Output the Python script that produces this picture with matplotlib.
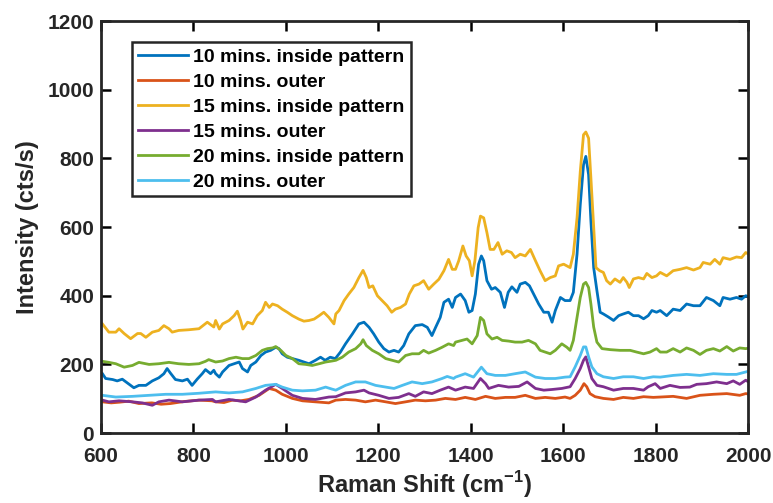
import matplotlib
matplotlib.use("Agg")
import matplotlib.pyplot as plt

plt.rcParams["font.family"] = ["Liberation Sans", "DejaVu Sans"]
plt.rcParams["font.weight"] = "bold"
plt.rcParams["mathtext.fontset"] = "custom"
plt.rcParams["mathtext.bf"] = "Liberation Sans:bold"
plt.rcParams["mathtext.rm"] = "Liberation Sans:bold"

# --- 10 mins, inside pattern ---
x_10_in = [603, 610, 625, 635, 646, 661, 671, 682, 697, 711, 725, 736, 743, 750, 761, 776, 787, 797, 808, 819, 826, 837, 844,
           848, 856, 863, 877, 888, 899, 906, 917, 924, 935, 946, 956, 967, 978, 985, 992, 1003, 1014, 1028, 1039, 1050, 1064,
           1075, 1085, 1096, 1107,
           1118, 1129, 1144, 1158, 1169, 1180, 1190, 1201, 1212, 1223, 1234, 1244, 1255, 1266, 1280, 1295, 1306, 1316,
           1324, 1334, 1342, 1352, 1360,
           1367, 1378, 1388, 1396, 1403, 1410, 1417, 1423, 1428, 1435, 1445, 1453, 1464, 1473, 1481, 1489, 1500, 1507,
           1518, 1527, 1536, 1547, 1558, 1568, 1576, 1583, 1594, 1604,
           1615, 1622, 1630, 1637, 1644, 1649, 1655, 1660, 1666, 1673, 1680, 1687, 1698, 1709, 1720, 1730, 1741, 1752,
           1763, 1774, 1784, 1792, 1802,
           1810, 1824, 1838, 1853, 1867, 1882, 1896, 1910, 1925, 1939, 1946, 1961, 1975, 1986, 1995, 2000]
y_10_in = [173, 159, 156, 152, 157, 142, 132, 139, 139, 152, 161, 173, 188, 175, 156, 152, 157, 139, 157, 173, 185, 173, 183,
           173, 163, 178, 197, 202, 207, 188, 178, 197, 207, 226, 236, 241, 250, 246, 231, 221, 217, 212, 207, 202, 212,
           221, 212, 221, 217,
           236, 260, 289, 318, 323, 308, 289, 265, 246, 236, 241, 236, 255, 289, 313, 316, 308, 284,
           308, 337, 381, 390, 366,
           395, 405, 386, 352, 357, 405, 492, 516, 502, 444, 419, 424, 410, 366, 410, 426, 410, 434,
           439, 429, 405, 376, 352, 352, 323, 357, 395, 386,
           386, 410, 521, 666, 782, 806, 753, 618, 482, 415, 352, 347, 338, 328, 342, 347, 352, 342,
           342, 333, 342, 357, 352,
           357, 342, 361, 357, 376, 371, 371, 395, 386, 371, 395, 390, 395, 390, 400, 398]

# --- 10 mins, outer ---
x_10_out = [603, 622, 640, 660, 682, 710, 730, 750, 780, 812, 840,
            848, 866, 884, 902, 920, 942, 964, 978, 992, 1014, 1036, 1064, 1093,
            1108, 1129, 1151, 1172, 1194, 1216, 1237, 1259, 1280, 1302, 1324, 1345,
            1367, 1388, 1410, 1432, 1453, 1475, 1496, 1518, 1540, 1561, 1583, 1604,
            1615, 1626, 1637, 1645, 1651, 1658, 1669, 1687, 1709, 1730, 1752, 1774, 1795,
            1810, 1838, 1867, 1896, 1925, 1954, 1982, 1995, 2000]
y_10_out = [91, 88, 90, 93, 86, 88, 84, 86, 92, 96, 94,
            91, 89, 96, 94, 98, 110, 130, 125, 113, 101, 94, 91, 88,
            96, 98, 96, 91, 96, 91, 86, 91, 96, 94, 96, 101,
            98, 104, 98, 107, 101, 104, 104, 110, 101, 104, 101, 105,
            101, 110, 125, 144, 135, 115, 106, 101, 98, 104, 101, 106, 104,
            105, 107, 101, 110, 113, 115, 110, 115, 114]

# --- 15 mins, inside pattern ---
x_15_in = [603, 617, 632, 639, 650, 664, 679, 686, 697, 711, 725, 736, 747, 754, 768, 790, 812, 830, 844,
           848, 856, 863, 877, 888, 895, 902, 907, 917, 928, 938, 949, 956, 964, 971, 982, 992, 1003, 1014, 1028,
           1039, 1050, 1061, 1072, 1082, 1093, 1104,
           1108, 1115, 1126, 1136, 1147, 1158, 1167, 1174, 1180, 1188, 1198, 1208, 1219, 1229, 1237, 1248, 1259,
           1267, 1277, 1288, 1298, 1309, 1320, 1331, 1342, 1352, 1360,
           1367, 1374, 1383, 1390, 1397, 1403, 1409, 1416, 1421, 1428, 1435, 1442, 1450, 1459, 1468, 1478, 1488,
           1496, 1507, 1518, 1529, 1540, 1550, 1561, 1572, 1583, 1590, 1601,
           1615, 1622, 1630, 1637, 1644, 1649, 1655, 1660, 1666, 1671, 1679, 1687, 1694, 1702, 1712, 1723, 1730,
           1738, 1743, 1752, 1763, 1774, 1781, 1792, 1802,
           1810, 1824, 1838, 1853, 1867, 1882, 1896, 1903, 1918, 1928, 1939, 1946, 1961, 1975, 1986, 1995, 2000]
y_15_in = [318, 294, 294, 304, 290, 275, 290, 290, 279, 294, 299, 313, 304, 294, 299, 301, 304, 323, 309,
           328, 303, 318, 328, 342, 355, 328, 303, 323, 318, 342, 357, 381, 366, 376, 371, 361, 352, 342, 332,
           326, 328, 332, 342, 352, 337, 318,
           347, 357, 386, 405, 424, 453, 474, 453, 424, 429, 400, 386, 371, 352, 361, 366, 376,
           405, 429, 434, 444, 419, 434, 448, 473, 506, 477,
           477, 502, 545, 516, 502, 458, 502, 598, 632, 627, 584, 535, 535, 555, 521, 531, 526,
           511, 521, 516, 535, 502, 473, 444, 453, 458, 487, 492,
           482, 521, 627, 762, 869, 877, 859, 743, 598, 482, 473, 468, 444, 434, 449, 439, 453,
           439, 424, 449, 453, 449, 465, 453, 458,
           468, 458, 473, 477, 482, 475, 482, 497, 492, 506, 492, 511, 506, 513, 511, 526, 522]

# --- 15 mins, outer ---
x_15_out = [603, 617, 639, 668, 689, 711, 725, 747, 776, 812, 841,
            848, 877, 913, 935, 956, 978, 992, 1014, 1036, 1064, 1093,
            1108, 1129, 1151, 1169, 1180, 1201, 1223, 1244, 1266, 1280, 1298, 1316, 1334, 1352,
            1367, 1388, 1406, 1421, 1432, 1439, 1460, 1482, 1504, 1522, 1540, 1558, 1576, 1597,
            1615, 1626, 1637, 1644, 1649, 1655, 1662, 1673, 1687, 1709, 1730, 1752, 1774, 1784, 1799,
            1810, 1831, 1853, 1874, 1889, 1910, 1932, 1954, 1968, 1982, 1995, 2000]
y_15_out = [96, 91, 94, 91, 88, 81, 91, 96, 91, 96, 98,
            91, 98, 91, 105, 125, 142, 130, 110, 101, 98, 105,
            106, 117, 120, 125, 117, 110, 101, 104, 115, 107, 120, 115, 125, 134,
            125, 134, 130, 159, 144, 130, 139, 134, 136, 149, 130, 125, 127, 130,
            135, 159, 188, 212, 222, 193, 159, 139, 135, 125, 130, 130, 125, 135, 144,
            130, 139, 133, 134, 142, 144, 149, 144, 152, 142, 154, 150]

# --- 20 mins, inside pattern ---
x_20_in = [603, 617, 632, 650, 668, 682, 704, 725, 747, 768, 790, 812, 826, 833,
           848, 863, 877, 892, 906, 920, 935, 949, 960, 971, 978, 989, 1000, 1014, 1028, 1043, 1057, 1072, 1086, 1100,
           1108, 1122, 1136, 1151, 1162, 1167, 1174, 1187, 1201, 1216, 1230, 1244, 1259, 1273, 1288, 1298, 1309,
           1324, 1338, 1352, 1363,
           1367, 1381, 1392, 1403, 1414, 1421, 1428, 1435, 1446, 1457, 1468, 1482, 1496, 1511, 1525, 1540, 1550,
           1561, 1572, 1583, 1597, 1608,
           1615, 1622, 1630, 1637, 1644, 1649, 1655, 1660, 1666, 1673, 1684, 1702, 1723, 1745, 1759, 1774, 1788, 1802,
           1810, 1824, 1838, 1853, 1867, 1882, 1896, 1910, 1925, 1939, 1954, 1968, 1982, 1995, 2000]
y_20_in = [209, 206, 202, 192, 197, 206, 200, 202, 206, 202, 200, 202, 209, 214,
           207, 210, 217, 221, 217, 217, 226, 241, 246, 248, 252, 241, 226, 217, 202, 200, 197, 202, 207, 210,
           212, 221, 236, 246, 260, 272, 255, 241, 231, 217, 212, 207, 226, 231, 231, 241, 233,
           241, 250, 260, 255,
           265, 270, 274, 260, 284, 337, 328, 289, 274, 279, 270, 268, 265, 265, 270, 260, 241,
           236, 231, 241, 260, 250,
           241, 270, 337, 395, 434, 439, 424, 376, 309, 265, 246, 243, 241, 241, 236, 231, 236, 246,
           236, 236, 246, 236, 248, 241, 229, 241, 246, 239, 252, 239, 248, 246, 247]

# --- 20 mins, outer ---
x_20_out = [603, 632, 668, 704, 740, 776, 812, 830,
            848, 877, 906, 935, 956, 978, 992, 1014, 1036, 1064, 1086, 1100,
            1108, 1129, 1151, 1172, 1194, 1216, 1234, 1252, 1273, 1295, 1316, 1338, 1349, 1363,
            1367, 1388, 1406, 1423, 1435, 1453, 1475, 1496, 1518, 1540, 1561, 1583, 1604,
            1615, 1626, 1637, 1644, 1649, 1655, 1662, 1673, 1687, 1709, 1730, 1752, 1774, 1795,
            1810, 1838, 1867, 1896, 1925, 1954, 1975, 1995, 2000]
y_20_out = [110, 105, 107, 110, 113, 113, 116, 118,
            120, 117, 120, 130, 139, 142, 134, 125, 123, 125, 134, 128,
            125, 139, 149, 149, 139, 134, 130, 139, 149, 144, 149, 159, 165, 159,
            163, 173, 163, 192, 173, 168, 168, 173, 178, 163, 159, 159, 163,
            164, 193, 226, 251, 251, 222, 193, 173, 164, 159, 164, 164, 159, 164,
            163, 168, 171, 168, 173, 171, 171, 178, 180]

series = [
    ("10 mins. inside pattern", x_10_in, y_10_in, "#0072BD"),
    ("10 mins. outer", x_10_out, y_10_out, "#D95319"),
    ("15 mins. inside pattern", x_15_in, y_15_in, "#EDB120"),
    ("15 mins. outer", x_15_out, y_15_out, "#7E2F8E"),
    ("20 mins. inside pattern", x_20_in, y_20_in, "#77AC30"),
    ("20 mins. outer", x_20_out, y_20_out, "#4DBEEE"),
]

x_ticks = [600, 800, 1000, 1200, 1400, 1600, 1800, 2000]
y_ticks = [0, 200, 400, 600, 800, 1000, 1200]

fig = plt.figure(figsize=(7.73, 5.03), dpi=100)
ax = fig.add_axes([0.1307, 0.139, 0.837, 0.819])

for label, xs, ys, color in series:
    ax.plot(xs, ys, color=color, lw=2.0, label=label)

ax.set_xlim(600, 2000)
ax.set_ylim(0, 1200)
ax.set_xticks(x_ticks)
ax.set_yticks(y_ticks)
ax.tick_params(direction="in", length=7, width=1.8, top=True, right=True,
               labelsize=15, labelcolor="#262626")
ax.tick_params(axis="x", pad=10)
ax.tick_params(axis="y", pad=5)
for lab in ax.get_xticklabels() + ax.get_yticklabels():
    lab.set_fontweight("bold")
for sp in ax.spines.values():
    sp.set_linewidth(2.0)
    sp.set_color("#262626")

ax.set_xlabel("Raman Shift (cm$^{\\mathbf{-1}}$)", fontsize=17, fontweight="bold",
              labelpad=2, color="#262626")
ax.set_ylabel("Intensity (cts/s)", fontsize=17, fontweight="bold", labelpad=6,
              color="#262626")

leg = ax.legend(loc="upper left", bbox_to_anchor=(0.048, 0.949), fontsize=14,
                frameon=True, fancybox=False, handlelength=2.55, handletextpad=0.3,
                labelspacing=0.38, borderpad=0.3, borderaxespad=0)
leg.get_frame().set_edgecolor("#262626")
leg.get_frame().set_linewidth(1.8)
leg.get_frame().set_alpha(1.0)
for t in leg.get_texts():
    t.set_fontweight("bold")

fig.savefig("out.png", dpi=100)
